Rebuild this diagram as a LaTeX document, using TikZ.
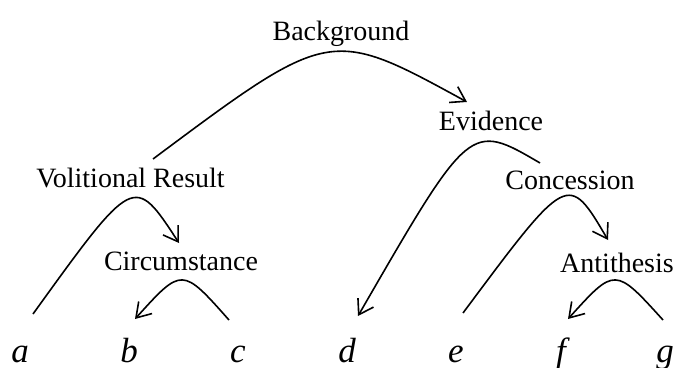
\documentclass[tikz,border=0pt]{standalone}
\usepackage{fontspec}
\setmainfont{Liberation Serif}
\usetikzlibrary{arrows.meta}
\begin{document}
\begin{tikzpicture}[x=1pt,y=1pt,
  leaf/.style={font=\fontsize{35}{40}\selectfont\itshape, anchor=base, inner sep=0pt},
  rel/.style={font=\fontsize{28}{34}\selectfont, anchor=base, inner sep=0pt},
  arc/.style={line width=1.6pt},
  arcarrow/.style={arc, -{Straight Barb[length=14pt,width=18pt,line width=1.6pt]}}]
\useasboundingbox (0,0) rectangle (676,367);
% leaves
\node[leaf] (a) at (20,5) {a};
\node[leaf] (b) at (129,5) {b};
\node[leaf] (c) at (238,5) {c};
\node[leaf] (d) at (347,5) {d};
\node[leaf] (e) at (456,5) {e};
\node[leaf] (f) at (561,5) {f};
\node[leaf] (g) at (665,5) {g};
% relation labels
\node[rel] (bg) at (341,326) {Background};
\node[rel] (ev) at (491,236) {Evidence};
\node[rel] (vr) at (130.5,179) {Volitional Result};
\node[rel] (co) at (570,178) {Concession};
\node[rel] (ci) at (181,97) {Circumstance};
\node[rel] (an) at (617,95) {Antithesis};
% curve ends and control points
\coordinate (bgS) at (153,208); \coordinate (bgC) at (330,340); \coordinate (bgE) at (467,265);
\coordinate (vrS) at (33,53);   \coordinate (vrC) at (134,193); \coordinate (vrE) at (179,124);
\coordinate (ciS) at (229,47);  \coordinate (ciC) at (182,100); \coordinate (ciE) at (135,48);
\coordinate (evS) at (540,204); \coordinate (evC) at (470,245); \coordinate (evE) at (358,51);
\coordinate (coS) at (463,54);  \coordinate (coC) at (568,195); \coordinate (coE) at (608,127);
\coordinate (anS) at (663,47);  \coordinate (anC) at (615,100); \coordinate (anE) at (568,48);
% arcs
\draw[arcarrow] (bgS) .. controls (bgC) and (bgC) .. (bgE);
\draw[arcarrow] (vrS) .. controls (vrC) and (vrC) .. (vrE);
\draw[arcarrow] (ciS) .. controls (ciC) and (ciC) .. (ciE);
\draw[arcarrow] (evS) .. controls (evC) and (evC) .. (evE);
\draw[arcarrow] (coS) .. controls (coC) and (coC) .. (coE);
\draw[arcarrow] (anS) .. controls (anC) and (anC) .. (anE);
\end{tikzpicture}
\end{document}
